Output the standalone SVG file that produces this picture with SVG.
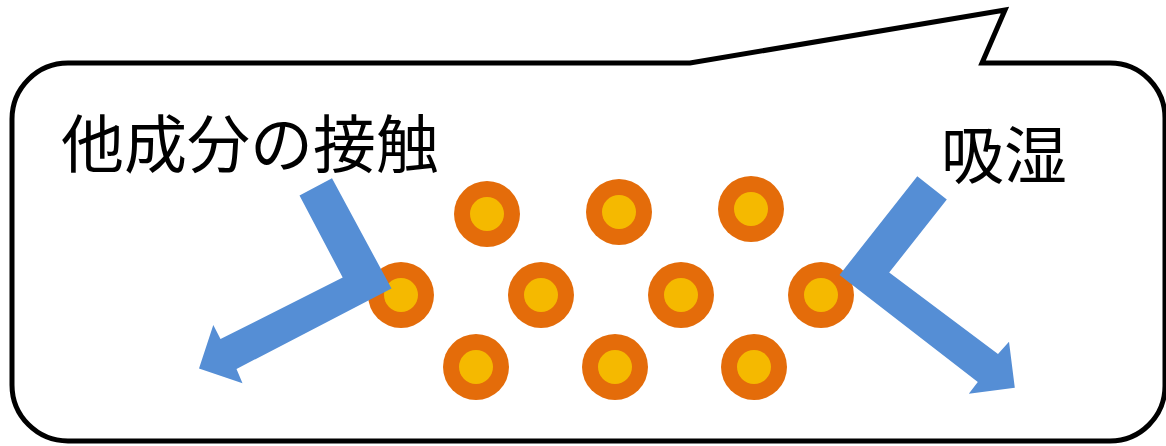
<svg xmlns="http://www.w3.org/2000/svg" width="1166" height="446" viewBox="0 0 1166 446">
<style>
.bubble{fill:#fff;stroke:#000;stroke-width:5;stroke-linejoin:miter}
.outer{fill:#E46C0A}
.inner{fill:#F5B900}
.arrow{fill:#558ED5}
.lbl{font-family:"Noto Sans CJK JP","Noto Sans CJK SC",sans-serif;font-size:63px;fill:#000}
</style>
<rect width="1166" height="446" fill="#fff"/>
<g id="callout">
<path class="bubble" d="M68,63 L690,63 L1005,10 L982,63 L1110,63 A55,55 0 0 1 1165,118 L1165,386 A55,55 0 0 1 1110,441 L68,441 A56,56 0 0 1 12,385 L12,119 A56,56 0 0 1 68,63 Z"/>
</g>
<g id="particles">
<g id="p1"><circle class="outer" cx="487" cy="214" r="33"/><circle class="inner" cx="487" cy="214" r="17"/></g>
<g id="p2"><circle class="outer" cx="619" cy="212" r="33"/><circle class="inner" cx="619" cy="212" r="17"/></g>
<g id="p3"><circle class="outer" cx="751" cy="209" r="33"/><circle class="inner" cx="751" cy="209" r="17"/></g>
<g id="p4"><circle class="outer" cx="401" cy="295" r="33"/><circle class="inner" cx="401" cy="295" r="17"/></g>
<g id="p5"><circle class="outer" cx="541" cy="295" r="33"/><circle class="inner" cx="541" cy="295" r="17"/></g>
<g id="p6"><circle class="outer" cx="681" cy="295" r="33"/><circle class="inner" cx="681" cy="295" r="17"/></g>
<g id="p7"><circle class="outer" cx="821" cy="295" r="33"/><circle class="inner" cx="821" cy="295" r="17"/></g>
<g id="p8"><circle class="outer" cx="476" cy="367" r="33"/><circle class="inner" cx="476" cy="367" r="17"/></g>
<g id="p9"><circle class="outer" cx="615" cy="367" r="33"/><circle class="inner" cx="615" cy="367" r="17"/></g>
<g id="p10"><circle class="outer" cx="754" cy="367" r="33"/><circle class="inner" cx="754" cy="367" r="17"/></g>
</g>
<g id="connectors">
<polygon class="arrow" points="299.5,195.5 332,178.3 391.5,288.5 236.5,369 242.5,383.3 199,368.5 213.3,325 220.5,339 342.7,277.5"/>
<polygon class="arrow" points="917.3,176.3 946.8,199.6 889.2,272.5 998,354 1009,341.7 1014.8,387.7 968.8,393.7 977.8,382 839.5,275"/>
</g>
<g id="label-contact"><text class="lbl" x="61" y="167">他成分の接触</text></g>
<g id="label-moisture"><text class="lbl" x="941" y="178">吸湿</text></g>
</svg>
